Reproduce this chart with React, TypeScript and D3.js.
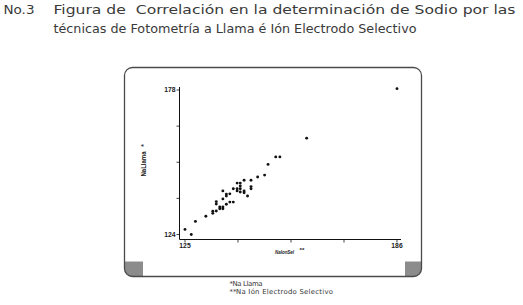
import React from "react";
import * as d3 from "d3";

// Data: Na by ion-selective electrode (x) vs flame photometry (y)
const naIonSel: number[] = [
  125.0, 126.8, 128.0, 131.0, 133.0, 133.0, 134.0, 134.0, 134.0, 135.0, 135.0,
  135.9, 135.9, 135.9, 135.9, 136.9, 136.9, 136.9, 137.9, 137.9, 138.9, 138.9,
  140.0, 140.0, 140.0, 140.9, 140.9, 140.9, 140.9, 142.0, 142.0, 142.0, 143.0,
  144.0, 144.0, 144.0, 145.9, 147.9, 148.9, 151.1, 152.3, 160.0, 186.0,
];
const naLlama: number[] = [
  125.9, 124.0, 128.9, 130.8, 131.9, 132.7, 132.8, 136.3, 135.4, 134.3, 133.6,
  134.3, 133.6, 137.3, 140.3, 138.4, 139.1, 135.3, 139.2, 136.1, 136.1, 141.1,
  143.2, 141.1, 140.3, 143.2, 142.1, 141.1, 139.9, 140.3, 139.6, 144.3, 138.4,
  144.3, 141.9, 141.1, 145.5, 146.2, 150.2, 153.0, 153.0, 160.0, 178.5,
];
const xTicks: number[] = [125, 140.25, 155.5, 170.75, 186];
const yTicks: number[] = [124, 137.5, 151, 164.5, 178];
const xTickLabels: string[] = ["125", "", "", "", "186"];
const yTickLabels: string[] = ["124", "", "", "", "178"];
const titleNo = "No.3";
const titleLines: string[] = [
  "Figura de  Correlación en la determinación de Sodio por las",
  "técnicas de Fotometría a Llama é Ión Electrodo Selectivo",
];
const yLabel = "NaLlama";
const xLabel = "NaIonSel";
const footnotes: string[][] = [
  ["*", "Na Llama"],
  ["**", "Na Ión Electrodo Selectivo"],
];

export default function App() {
  const x = d3.scaleLinear().domain([125, 186]).range([185, 397]);
  const y = d3.scaleLinear().domain([124, 178]).range([234.5, 90]);
  const axisX = 179.5;
  const axisY = 239.5;
  const points = naIonSel.map((v, i) => [v, naLlama[i]]);
  const dejavu = "'DejaVu Sans', Verdana, sans-serif";
  const arial = "'Liberation Sans', Arial, sans-serif";

  return (
    <div style={{ position: "absolute", left: 0, top: 0 }}>
      <svg width={523} height={305} style={{ display: "block", background: "#fff" }}>
        <defs>
          <clipPath id="frameClip">
            <rect x={124.5} y={67.5} width={297} height={209} rx={8} />
          </clipPath>
        </defs>
        {/* title */}
        <g fill="#3a3a3a" fontFamily={dejavu} fontSize={12.6}>
          <text x={3.5} y={13.8} textLength={31} lengthAdjust="spacingAndGlyphs">{titleNo}</text>
          <text x={53.5} y={13.8} textLength={462} lengthAdjust="spacingAndGlyphs" xmlSpace="preserve">
            {titleLines[0]}
          </text>
          <text x={53.5} y={32.6} textLength={363} lengthAdjust="spacingAndGlyphs">
            {titleLines[1]}
          </text>
        </g>

        {/* frame */}
        <g clipPath="url(#frameClip)">
          <rect x={124.5} y={261.5} width={18.5} height={16} fill="#8c8c8c" />
          <rect x={405} y={261.5} width={17} height={16} fill="#8c8c8c" />
        </g>
        <rect x={124.5} y={67.5} width={297} height={209} rx={8} fill="none" stroke="#4a4a4a" strokeWidth={1.3} />

        {/* axes */}
        <line x1={axisX} x2={axisX} y1={87} y2={axisY} stroke="#111" strokeWidth={1} />
        <line x1={axisX} x2={401} y1={axisY} y2={axisY} stroke="#111" strokeWidth={1} />
        {yTicks.map((t, i) => (
          <g key={"yt" + i}>
            <line x1={axisX - 3} x2={axisX} y1={y(t)} y2={y(t)} stroke="#111" strokeWidth={0.8} />
            {yTickLabels[i] && (
              <text x={axisX - 4} y={y(t) + 2.4} textAnchor="end" fontFamily={arial} fontWeight="bold" fontSize={6.8} fill="#222">
                {yTickLabels[i]}
              </text>
            )}
          </g>
        ))}
        {xTicks.map((t, i) => (
          <g key={"xt" + i}>
            <line x1={x(t)} x2={x(t)} y1={axisY} y2={axisY + 3} stroke="#111" strokeWidth={0.8} />
            {xTickLabels[i] && (
              <text x={x(t)} y={axisY + 8.7} textAnchor="middle" fontFamily={arial} fontWeight="bold" fontSize={6.8} fill="#222">
                {xTickLabels[i]}
              </text>
            )}
          </g>
        ))}

        {/* axis labels */}
        <text
          transform="translate(145.5,164) rotate(-90)"
          textAnchor="middle"
          fontFamily={arial}
          fontWeight="bold"
          fontSize={6.4}
          fill="#222"
          textLength={25}
          lengthAdjust="spacingAndGlyphs"
        >
          {yLabel}
        </text>
        <text transform="translate(146,145.5) rotate(-90)" textAnchor="middle" fontFamily={arial} fontWeight="bold" fontSize={6.4} fill="#222">
          *
        </text>
        <text transform="translate(275,253.5) scale(0.72,1)" fontFamily={arial} fontWeight="bold" fontStyle="italic" fontSize={6.2} fill="#222">
          {xLabel}
        </text>
        <text x={299.5} y={252.3} fontFamily={arial} fontWeight="bold" fontSize={6.2} fill="#222">
          **
        </text>

        {/* points */}
        {points.map((p, i) => (
          <circle key={"p" + i} cx={x(p[0])} cy={y(p[1])} r={1.45} fill="#111" />
        ))}

        {/* footnotes */}
        <g fontFamily={dejavu} fill="#333" fontSize={6.9}>
          <text x={229.5} y={285.6}>
            <tspan>{footnotes[0][0]}</tspan>
            <tspan x={232.5} textLength={30} lengthAdjust="spacing">{footnotes[0][1]}</tspan>
          </text>
          <text x={229.5} y={293.7}>
            <tspan>{footnotes[1][0]}</tspan>
            <tspan x={236} textLength={97} lengthAdjust="spacing">{footnotes[1][1]}</tspan>
          </text>
        </g>
      </svg>
    </div>
  );
}
